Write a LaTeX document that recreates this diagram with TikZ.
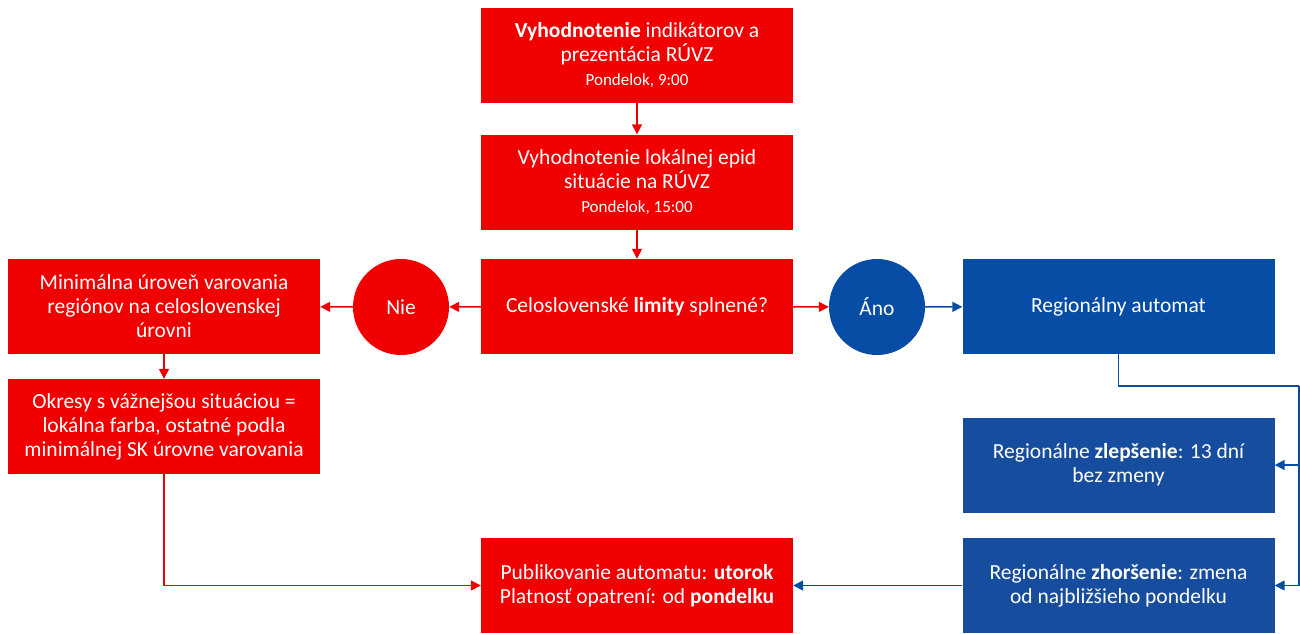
\documentclass[tikz,border=0pt]{standalone}
\usepackage{fontspec}
\setmainfont{Carlito}
\usetikzlibrary{arrows.meta}
\definecolor{myred}{HTML}{F00000}
\definecolor{myblue}{HTML}{074CA5}
\definecolor{myblue2}{HTML}{174D9F}
\newcommand{\smalltext}[1]{{\fontsize{17}{21}\selectfont #1}}
\tikzset{
  box/.style={minimum width=312pt, minimum height=95pt, inner sep=0pt, text=white, align=center, font=\fontsize{21.5}{24}\selectfont},
  redbox/.style={box, fill=myred},
  bluebox/.style={box, fill=myblue},
  bluebox2/.style={box, fill=myblue2},
  circ/.style={circle, minimum size=96pt, inner sep=0pt, text=white, font=\fontsize{21.5}{24}\selectfont},
  redarr/.style={draw=myred, line width=1.5pt, -{Triangle[length=10pt,width=10pt]}},
  bluearr/.style={draw=myblue, line width=1.5pt, -{Triangle[length=10pt,width=10pt]}}
}
\begin{document}
\begin{tikzpicture}[x=1pt,y=1pt]
\useasboundingbox (0,0) rectangle (1300,-633);
\node[redbox] (b1) at (637,-55.5) {\textbf{Vyhodnotenie} indikátorov a\\prezentácia RÚVZ\\\smalltext{Pondelok, 9:00}};
\node[redbox] (b2) at (637,-182) {Vyhodnotenie lokálnej epid\\situácie na RÚVZ\\\smalltext{Pondelok, 15:00}};
\node[redbox] (b3) at (637,-306.5) {Celoslovenské \textbf{limity} splnené?};
\node[circ, fill=myred] (nie) at (401,-307) {Nie};
\node[redbox] (minb) at (164,-306.5) {Minimálna úroveň varovania\\regiónov na celoslovenskej\\úrovni};
\node[redbox] (okr) at (164,-426.5) {Okresy s vážnejšou situáciou =\\lokálna farba, ostatné podla\\minimálnej SK úrovne varovania};
\node[circ, fill=myblue] (ano) at (877,-307) {Áno};
\node[bluebox] (auto) at (1118.5,-306.5) {Regionálny automat};
\node[bluebox2] (zlep) at (1118.5,-465) {Regionálne \textbf{zlepšenie}: 13 dní\\bez zmeny};
\node[bluebox2] (zhor) at (1118.5,-585.5) {Regionálne \textbf{zhoršenie}: zmena\\od najbližšieho pondelku};
\node[redbox] (pub) at (637,-585.5) {Publikovanie automatu: \textbf{utorok}\\Platnosť opatrení: od \textbf{pondelku}};
\coordinate (r1) at (1299,-386);
\draw[redarr] (b1) -- (b2);
\draw[redarr] (b2) -- (b3);
\draw[redarr] (b3) -- (nie);
\draw[redarr] (nie) -- (minb);
\draw[redarr] (minb) -- (okr);
\draw[redarr] (okr.south) |- (pub.west);
\draw[redarr] (b3) -- (ano);
\draw[bluearr] (ano) -- (auto);
\draw[draw=myblue, line width=1.5pt] (auto.south) |- (r1);
\draw[bluearr] (r1) |- (zlep.east);
\draw[bluearr] (r1) |- (zhor.east);
\draw[bluearr] (zhor) -- (pub);
\end{tikzpicture}
\end{document}
